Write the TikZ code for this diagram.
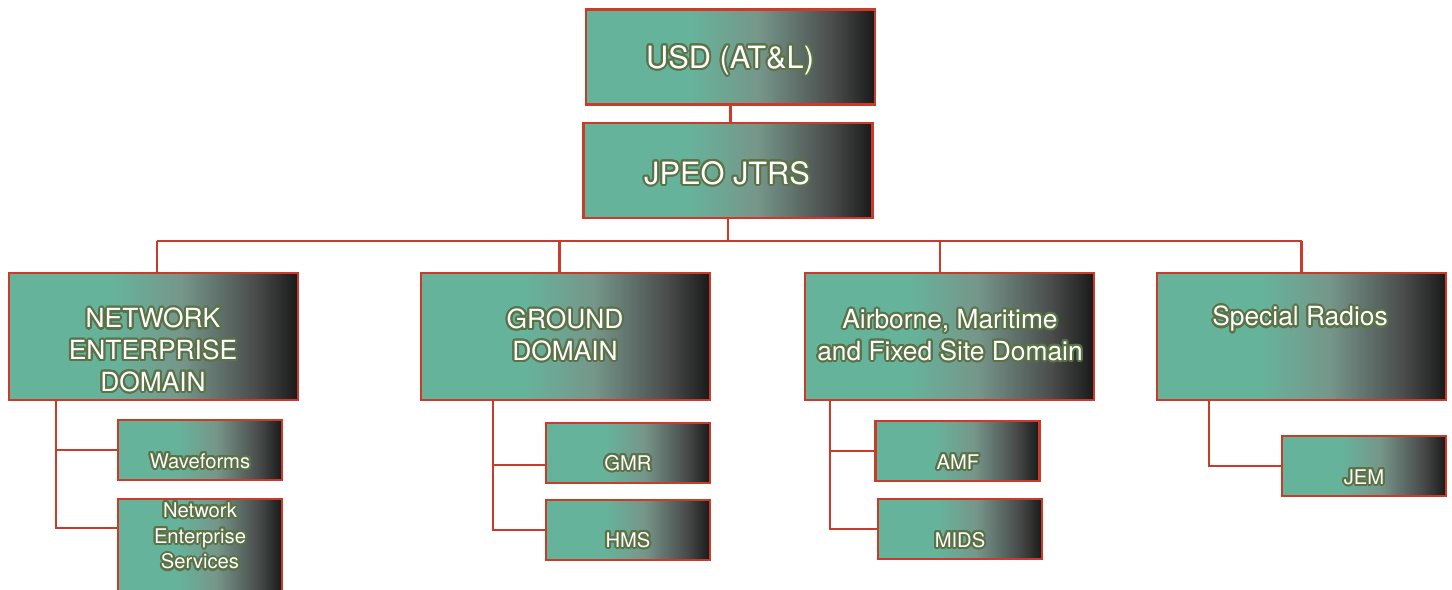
\documentclass[tikz,border=0pt]{standalone}
\usepackage{fontspec}
\setmainfont{TeX Gyre Heros}
\usepackage{contour}
\usepackage{tikz}
\usetikzlibrary{positioning,calc}
\definecolor{orgred}{RGB}{204,59,42}
\definecolor{orgteal}{RGB}{102,179,155}
\definecolor{orgmid}{RGB}{118,150,138}
\definecolor{orgdark}{RGB}{72,74,74}
\definecolor{orgblack}{RGB}{25,25,25}
\definecolor{orgolive}{RGB}{90,114,70}
\pgfdeclarehorizontalshading{tealfade}{100bp}{color(0bp)=(orgteal); color(25bp)=(orgteal); color(43bp)=(orgteal); color(55bp)=(orgmid); color(68bp)=(orgdark); color(75bp)=(orgblack); color(100bp)=(orgblack)}
\contourlength{1.2pt}
\newcommand{\otxt}[1]{\contour{orgolive}{#1}}

\begin{document}
\begin{tikzpicture}[x=0.02cm,y=-0.02cm,
  box/.style={draw=orgred,line width=1.4pt,shading=tealfade,inner sep=0pt},
  topbox/.style={box,minimum width=5.78cm,minimum height=1.9cm},
  dombox/.style={box,minimum width=5.78cm,minimum height=2.54cm},
  subbox/.style={box,minimum width=3.28cm,minimum height=1.2cm},
  toptxt/.style={text=white,font=\fontsize{17.5}{21}\selectfont},
  domtxt/.style={text=white,align=center,font=\fontsize{15}{18}\selectfont},
  subtxt/.style={text=white,align=center,font=\fontsize{11.5}{14.7}\selectfont},
  conn/.style={draw=orgred,line width=1.3pt}
]
\useasboundingbox (0,0) rectangle (1452,590);
% top of the chart
\node[topbox] (usd) at (730.5,57) {};
\node[topbox] (jpeo) at (728,170.5) {};
\node[toptxt] (usd-t) at (730,61) {\otxt{USD (AT\&L)}};
\node[toptxt] (jpeo-t) at (727,174) {\otxt{JPEO JTRS}};
% domains
\node[dombox] (ned) at (153.5,336.5) {};
\node[dombox] (gnd) at (565.5,336.5) {};
\node[dombox] (amf) at (949.5,336.5) {};
\node[dombox] (spr) at (1301.5,336.5) {};
\node[domtxt] (ned-t) at (153,351) {\otxt{NETWORK}\\\otxt{ENTERPRISE}\\\otxt{DOMAIN}};
\node[domtxt] (gnd-t) at (565,336) {\otxt{GROUND}\\\otxt{DOMAIN}};
\node[domtxt] (amf-t) at (950,336) {\otxt{Airborne, Maritime}\\\otxt{and Fixed Site Domain}};
\node[domtxt] (spr-t) at (1300,320) {\otxt{Special Radios}};
% programs
\node[subbox] (wav) at (200,450) {};
\node[subbox,minimum height=2.02cm] (nes) at (200,549.5) {};
\node[subbox] (gmr) at (628,453) {};
\node[subbox] (hms) at (628,530) {};
\node[subbox] (amfc) at (957.5,451) {};
\node[subbox] (mids) at (960,529) {};
\node[subbox] (jem) at (1364,466) {};
\node[subtxt] (wav-t) at (200,462) {\otxt{Waveforms}};
\node[subtxt] (nes-t) at (200,537) {\otxt{Network}\\\otxt{Enterprise}\\\otxt{Services}};
\node[subtxt] (gmr-t) at (628,464) {\otxt{GMR}};
\node[subtxt] (hms-t) at (628,541) {\otxt{HMS}};
\node[subtxt] (amfc-t) at (958,463) {\otxt{AMF}};
\node[subtxt] (mids-t) at (960,541) {\otxt{MIDS}};
\node[subtxt] (jem-t) at (1364,478) {\otxt{JEM}};
% connectors
\coordinate (busL) at (157,241);
\coordinate (busR) at (1302,241);
\draw[conn] (usd.south) -- (usd.south |- jpeo.north);
\draw[conn] (jpeo.south) -- (jpeo.south |- busL);
\draw[conn] (busL) -- (busR);
\draw[conn] ([xshift=0.07cm]ned.north) -- ([xshift=0.07cm]ned.north |- busL);
\draw[conn] ([xshift=-0.12cm]gnd.north) -- ([xshift=-0.12cm]gnd.north |- busL);
\draw[conn] ([xshift=-0.19cm]amf.north) -- ([xshift=-0.19cm]amf.north |- busL);
\draw[conn] (spr.north) -- (spr.north |- busL);
\draw[conn] ([xshift=0.96cm]ned.south west) |- (wav.west);
\draw[conn] ([xshift=0.96cm]ned.south west) |- ([yshift=-0.6cm]nes.north west);
\draw[conn] ([xshift=1.46cm]gnd.south west) |- ([yshift=-0.24cm]gmr.west);
\draw[conn] ([xshift=1.46cm]gnd.south west) |- (hms.west);
\draw[conn] ([xshift=0.52cm]amf.south west) |- (amfc.west);
\draw[conn] ([xshift=0.52cm]amf.south west) |- (mids.west);
\draw[conn] ([xshift=1.06cm]spr.south west) |- (jem.west);
\end{tikzpicture}
\end{document}
